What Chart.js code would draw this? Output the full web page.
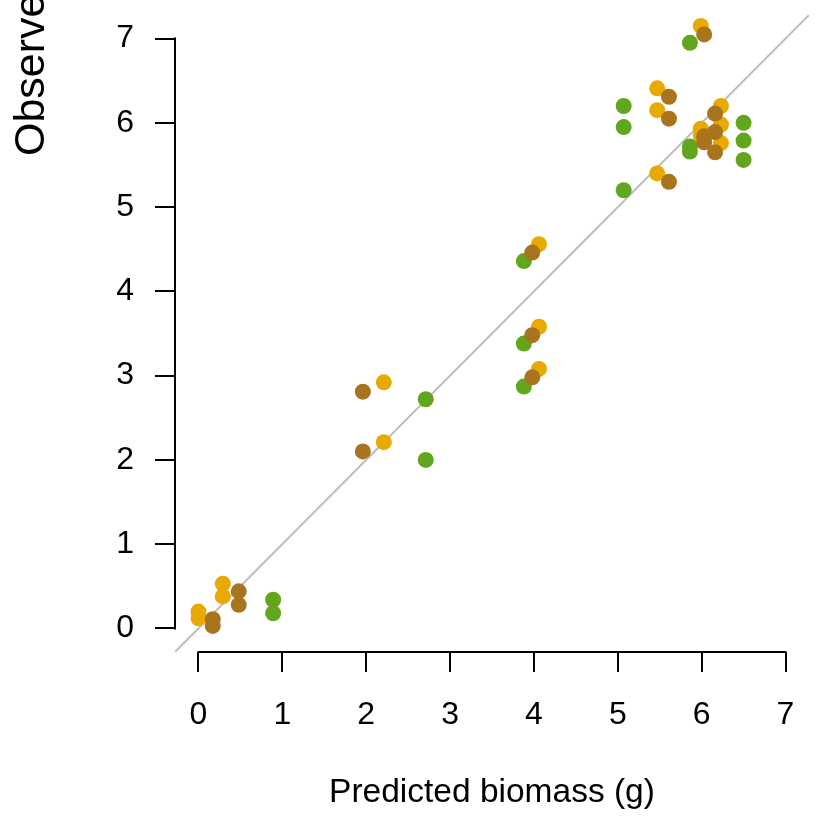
<!DOCTYPE html>
<html>
<head>
<meta charset="utf-8">
<script src="https://cdn.jsdelivr.net/npm/chart.js@4/dist/chart.umd.min.js"></script>
<style>
  html, body { margin: 0; padding: 0; background: #fff; }
  #wrap { width: 817px; height: 816px; position: relative; }
</style>
</head>
<body>
<div id="wrap"><canvas id="plot"></canvas></div>
<script>
// --- Data ---
const axisTicks = [0, 1, 2, 3, 4, 5, 6, 7];

const greenX = [0.89, 0.89, 2.71, 2.71, 3.88, 3.88, 3.88, 5.07, 5.07, 5.07, 5.86, 5.86, 5.86, 6.50, 6.50, 6.50];
const greenY = [0.34, 0.18, 2.72, 2.00, 4.36, 3.38, 2.87, 6.20, 5.95, 5.20, 6.95, 5.72, 5.66, 6.00, 5.79, 5.56];

const goldX = [0.00, 0.00, 0.29, 0.29, 2.21, 2.21, 4.06, 4.06, 4.06, 5.47, 5.47, 5.47, 5.99, 5.99, 5.99, 6.23, 6.23, 6.23];
const goldY = [0.20, 0.12, 0.53, 0.38, 2.92, 2.21, 4.56, 3.58, 3.08, 6.41, 6.15, 5.40, 7.15, 5.93, 5.85, 6.20, 5.98, 5.76];

const brownX = [0.17, 0.17, 0.48, 0.48, 1.96, 1.96, 3.98, 3.98, 3.98, 5.61, 5.61, 5.61, 6.03, 6.03, 6.03, 6.16, 6.16, 6.16];
const brownY = [0.11, 0.03, 0.44, 0.28, 2.81, 2.10, 4.46, 3.48, 2.98, 6.31, 6.05, 5.30, 7.05, 5.84, 5.77, 6.11, 5.89, 5.65];

const lims = [-0.28, 7.28];

const pts = (xs, ys) => xs.map((x, i) => ({ x, y: ys[i] }));
const FONT = '"Liberation Sans", Arial, Helvetica, sans-serif';

// --- R-style axes: line only between first and last tick, plus rotated y title ---
const rAxes = {
  id: 'rAxes',
  afterDraw(chart) {
    const { ctx, chartArea, scales } = chart;
    const sx = scales.x, sy = scales.y;
    ctx.save();
    ctx.strokeStyle = '#000';
    ctx.lineWidth = 2;
    ctx.beginPath();
    ctx.moveTo(sx.getPixelForValue(axisTicks[0]) - 1, chartArea.bottom);
    ctx.lineTo(sx.getPixelForValue(axisTicks[axisTicks.length - 1]) + 1, chartArea.bottom);
    ctx.moveTo(chartArea.left, sy.getPixelForValue(axisTicks[0]) + 1);
    ctx.lineTo(chartArea.left, sy.getPixelForValue(axisTicks[axisTicks.length - 1]) - 1);
    ctx.stroke();

    ctx.fillStyle = '#000';
    ctx.font = '43px ' + FONT;
    ctx.textAlign = 'left';
    ctx.textBaseline = 'alphabetic';
    ctx.translate(44, 156);
    ctx.rotate(-Math.PI / 2);
    ctx.fillText('Observed biomass (g)', 0, 0);
    ctx.restore();
  }
};

// keep the plot box fixed: no extra room for overhanging tick labels
const noOverhang = s => {
  s.paddingTop = 0; s.paddingBottom = 0;
  s.paddingLeft = 0; s.paddingRight = 0;
};

new Chart(document.getElementById('plot'), {
  type: 'scatter',
  data: {
    datasets: [
      { type: 'line', data: pts(lims, lims), borderColor: '#bebebe', borderWidth: 2,
        pointRadius: 0, order: 3 },
      { data: pts(greenX, greenY), backgroundColor: '#62a61e', order: 2 },
      { data: pts(goldX, goldY), backgroundColor: '#e8a900', order: 1 },
      { data: pts(brownX, brownY), backgroundColor: '#a8741e', order: 0 }
    ]
  },
  options: {
    responsive: true,
    maintainAspectRatio: false,
    animation: false,
    layout: { padding: { top: 15, right: 6, left: 0, bottom: 0 } },
    elements: { point: { radius: 8, borderWidth: 0, hoverRadius: 8 } },
    plugins: { legend: { display: false }, tooltip: { enabled: false } },
    scales: {
      x: {
        type: 'linear', min: lims[0], max: lims[1],
        afterFit: s => { s.height = 164; noOverhang(s); },
        afterBuildTicks: s => { s.ticks = axisTicks.map(v => ({ value: v })); },
        border: { display: false },
        grid: { drawOnChartArea: false, drawTicks: true, tickLength: 20, color: '#000', lineWidth: 2 },
        ticks: { color: '#000', font: { family: FONT, size: 32 }, padding: 24, maxRotation: 0 },
        title: { display: true, text: 'Predicted biomass (g)', color: '#000',
                 font: { family: FONT, size: 33.5 }, padding: { top: 0, bottom: 3 } }
      },
      y: {
        type: 'linear', min: lims[0], max: lims[1],
        afterFit: s => { s.width = 175; noOverhang(s); },
        afterBuildTicks: s => { s.ticks = axisTicks.map(v => ({ value: v })); },
        border: { display: false },
        grid: { drawOnChartArea: false, drawTicks: true, tickLength: 20, color: '#000', lineWidth: 2 },
        ticks: { color: '#000', font: { family: FONT, size: 32 }, padding: 21 }
      }
    }
  },
  plugins: [rAxes]
});
</script>
</body>
</html>
